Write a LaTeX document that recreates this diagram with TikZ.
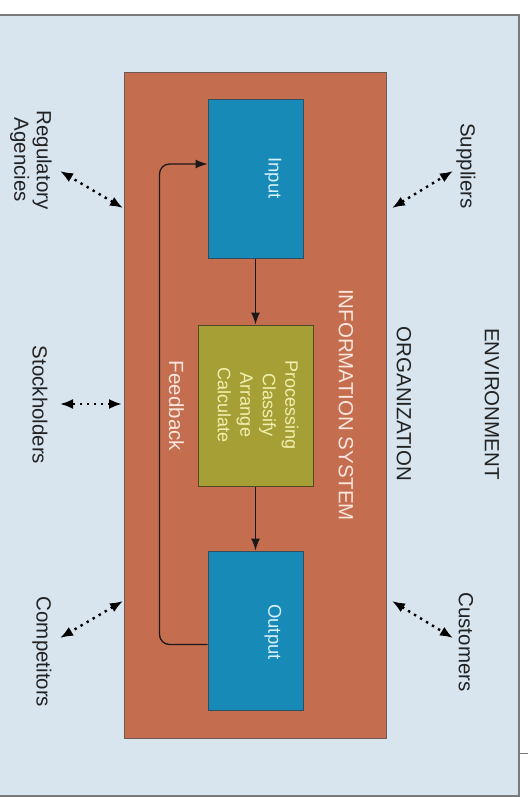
\documentclass[tikz,border=0pt]{standalone}
\usepackage{fontspec}
\setmainfont{Liberation Sans}
\usetikzlibrary{arrows.meta}
\definecolor{envbg}{HTML}{D9E5EE}
\definecolor{envline}{HTML}{7A7A7A}
\definecolor{orgfill}{HTML}{C46E4F}
\definecolor{orgline}{HTML}{6E5A50}
\definecolor{iofill}{HTML}{178AB7}
\definecolor{ioline}{HTML}{2F4F5F}
\definecolor{procfill}{HTML}{A59F36}
\definecolor{procline}{HTML}{4F4A25}
\definecolor{iotext}{HTML}{D8F0FA}
\definecolor{proctext}{HTML}{F2F0B0}
\definecolor{orgtext}{HTML}{FBE6DE}
\definecolor{darktext}{HTML}{222222}
\begin{document}
\begin{tikzpicture}[x=1pt,y=-1pt,
  bigtxt/.style={rotate=-90, inner sep=0pt, text=darktext, font=\fontsize{20.5}{22.5}\selectfont, align=center},
  orglbl/.style={rotate=-90, inner sep=0pt, text=orgtext, font=\fontsize{20.5}{22.5}\selectfont},
  iobox/.style={draw=ioline, line width=1pt, fill=iofill, minimum width=95pt, minimum height=159pt, inner sep=0pt},
  procbox/.style={draw=procline, line width=1pt, fill=procfill, minimum width=115pt, minimum height=161pt, inner sep=0pt},
  iolbl/.style={rotate=-90, inner sep=0pt, text=iotext, font=\fontsize{18.5}{22}\selectfont},
  proclbl/.style={rotate=-90, inner sep=0pt, text=proctext, font=\fontsize{18}{22.5}\selectfont, align=center},
  flow/.style={line width=1.3pt, draw=black!90, -{Latex[length=12pt,width=9pt]}},
  link/.style={line width=2.4pt, draw=black, dash pattern=on 2.4pt off 4.6pt,
    {Latex[length=13pt,width=10pt]}-{Latex[length=13pt,width=10pt]}}
]
\useasboundingbox (0,0) rectangle (528,798);
\fill[white] (0,0) rectangle (528,798);
\fill[envbg] (0,15) rectangle (519,796);
\draw[envline, line width=1.2pt] (0,15) -- (519,15) -- (519,796) -- (0,796);
\draw[envline, line width=0.8pt] (519,753) -- (528,753);

% organization
\node[draw=orgline, line width=0.8pt, fill=orgfill, minimum width=262pt, minimum height=666pt, inner sep=0pt] (org) at (255,405) {};

% boxes
\node[iobox] (input) at (255.5,178.5) {};
\node[procbox] (proc) at (255.5,405.5) {};
\node[iobox] (output) at (255.5,630.5) {};

% texts
\node[iolbl] (inputlbl) at (273,178) {Input};
\node[iolbl] (outputlbl) at (273,632) {Output};
\node[proclbl] (proclbl) at (258,405) {Processing\\Classify\\Arrange\\Calculate};
\node[orglbl] (islbl) at (346,405) {INFORMATION SYSTEM};
\node[orglbl] (fblbl) at (176.5,406) {Feedback};
\node[bigtxt] (orglbl) at (404,404) {ORGANIZATION};
\node[bigtxt] (envlbl) at (492,404) {ENVIRONMENT};
\node[bigtxt] (supl) at (466,166) {Suppliers};
\node[bigtxt] (cust) at (466,642) {Customers};
\node[bigtxt] (regl) at (31,160) {Regulatory\\Agencies};
\node[bigtxt] (stock) at (40,405) {Stockholders};
\node[bigtxt] (comp) at (42,652) {Competitors};

% flow
\draw[flow] (input.south) -- (proc.north);
\draw[flow] (proc.south) -- (output.north);
\draw[flow, rounded corners=10pt] ([yshift=-14pt]output.west) -- ++(-48,0) |- ([yshift=14.5pt]input.west);

% environment links
\coordinate (supA) at (392,208);  \coordinate (supB) at (453,171);
\coordinate (regA) at (123,208);  \coordinate (regB) at (60,171);
\coordinate (stoA) at (122,404);  \coordinate (stoB) at (60,404);
\coordinate (comA) at (123,601);  \coordinate (comB) at (60,638);
\coordinate (cusA) at (392,601);  \coordinate (cusB) at (453,638);
\draw[link] (supA) -- (supB);
\draw[link] (regA) -- (regB);
\draw[link] (stoA) -- (stoB);
\draw[link] (comA) -- (comB);
\draw[link] (cusA) -- (cusB);
\end{tikzpicture}
\end{document}
